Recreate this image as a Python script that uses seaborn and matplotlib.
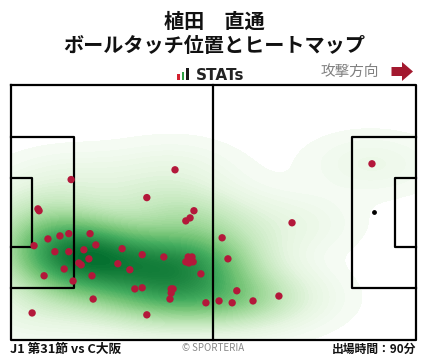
import numpy as np
import pandas as pd
import matplotlib
matplotlib.use("Agg")
import matplotlib.pyplot as plt
import seaborn as sns
from matplotlib.patches import Rectangle, Polygon
from matplotlib.colors import LinearSegmentedColormap

# ---- data (pitch metres, x from own goal, y from top touchline) ----
touch_x = [15.7, 42.6, 35.3, 7.1, 7.4, 47.5, 46.5, 45.4, 15.1, 12.8,
           9.7, 20.6, 6.1, 22.1, 11.5, 15.1, 19.0, 28.9, 34.1, 39.7,
           46.0, 47.0, 45.4, 46.2, 47.3, 20.3, 17.7, 18.3, 27.8, 30.9,
           13.9, 49.3, 8.7, 21.1, 16.2, 32.2, 34.1, 41.6, 42.1, 41.6,
           41.3, 21.4, 50.6, 5.6, 35.3, 72.9, 54.8, 56.3, 58.6, 54.0,
           57.4, 62.8, 69.5, 93.6]
touch_y = [25.3, 22.7, 30.1, 33.1, 33.6, 33.6, 35.5, 36.3, 39.7, 40.3,
           41.1, 39.7, 42.9, 42.7, 44.5, 44.5, 44.0, 43.7, 45.3, 45.9,
           45.9, 45.9, 47.2, 47.5, 47.2, 46.4, 47.5, 48.0, 47.7, 49.3,
           49.1, 50.4, 50.9, 50.9, 52.3, 54.4, 54.1, 54.4, 54.4, 55.5,
           57.1, 57.1, 58.1, 60.8, 61.3, 36.8, 40.8, 46.4, 54.9, 57.6,
           58.1, 57.6, 56.3, 21.1]

title_name = "植田　直通"
title_sub = "ボールタッチ位置とヒートマップ"
match_label = "J1 第31節 vs C大阪"
minutes_label = "出場時間：90分"
credit_label = "© SPORTERIA"
direction_label = "攻撃方向"
logo_label = "STATs"

PITCH_L, PITCH_W = 105.0, 68.0

sns.set_theme(style="white")
plt.rcParams['font.family'] = ['Noto Sans CJK JP', 'DejaVu Sans']

W, H = 428, 359
fig = plt.figure(figsize=(W / 100, H / 100), dpi=100)
fig.patch.set_facecolor("white")


def fx(px):
    return px / W


def fy(py):
    return 1 - py / H


ax = fig.add_axes([fx(10.5), fy(340), fx(416) - fx(10.5), fy(84.5) - fy(340)])
ax.set_xlim(0, PITCH_L)
ax.set_ylim(PITCH_W, 0)
ax.set_facecolor("white")
for s in ax.spines.values():
    s.set_visible(False)
ax.set_xticks([])
ax.set_yticks([])

df = pd.DataFrame({"x": touch_x, "y": touch_y})

# penalty spots (under heatmap)
ax.scatter([11, 94], [34, 34], s=6, color="black", zorder=0.5)

greens = plt.get_cmap("Greens")
heat_cmap = LinearSegmentedColormap.from_list(
    "heat", [greens(0.86 * v ** 0.85) for v in np.linspace(0.0, 1.0, 96)])

sns.kdeplot(data=df, x="x", y="y", fill=True, cmap=heat_cmap, levels=70,
            thresh=0.006, bw_adjust=1.1, clip=((0, PITCH_L), (0, PITCH_W)),
            ax=ax, zorder=1)

lw = 1.6
lc = "black"


def line(xs, ys):
    ax.plot(xs, ys, color=lc, lw=lw, zorder=3, clip_on=False,
            solid_capstyle="projecting")


line([0, PITCH_L, PITCH_L, 0, 0], [0, 0, PITCH_W, PITCH_W, 0])
line([52.5, 52.5], [0, PITCH_W])
line([0, 16.5, 16.5, 0], [13.84, 13.84, 54.16, 54.16])
line([0, 5.5, 5.5, 0], [24.84, 24.84, 43.16, 43.16])
line([PITCH_L, PITCH_L - 16.5, PITCH_L - 16.5, PITCH_L], [13.84, 13.84, 54.16, 54.16])
line([PITCH_L, PITCH_L - 5.5, PITCH_L - 5.5, PITCH_L], [24.84, 24.84, 43.16, 43.16])

sns.scatterplot(data=df, x="x", y="y", color="#b3183a", s=28,
                edgecolor="none", ax=ax, zorder=4, legend=False)
ax.set_xlabel("")
ax.set_ylabel("")

# ---- titles ----
fig.text(fx(214), fy(21), title_name, ha="center", va="center",
         fontsize=14.5, fontweight="bold", color="#111111")
fig.text(fx(214), fy(46), title_sub, ha="center", va="center",
         fontsize=14.5, fontweight="bold", color="#111111")

# ---- STATs logo ----
for (x0, x1, y0, col) in [(176.7, 180, 74, "#d3202f"),
                          (181.7, 184.3, 72, "#2ea043"),
                          (186, 189.3, 68.3, "#1a1a1a")]:
    fig.patches.append(Rectangle((fx(x0), fy(80)), fx(x1) - fx(x0),
                                 fy(y0) - fy(80), transform=fig.transFigure,
                                 color=col, lw=0))
fig.text(fx(196), fy(80), logo_label, ha="left", va="baseline",
         fontsize=11, fontweight="bold", color="#222222",
         family=["DejaVu Sans"])

# ---- attack direction ----
fig.text(fx(379), fy(72), direction_label, ha="right", va="center",
         fontsize=10.5, color="#808080")
arrow_pts = [(391.5, 67), (402, 67), (402, 62), (413, 71.5), (402, 81),
             (402, 76), (391.5, 76)]
fig.patches.append(Polygon([(fx(a), fy(b)) for a, b in arrow_pts], closed=True,
                           transform=fig.transFigure, color="#a3192f", lw=0))

# ---- footer ----
fig.text(fx(10), fy(349), match_label, ha="left", va="center",
         fontsize=9.2, fontweight="bold", color="#111111")
fig.text(fx(416), fy(349), minutes_label, ha="right", va="center",
         fontsize=8.5, fontweight="bold", color="#111111")
fig.text(fx(213), fy(348), credit_label, ha="center", va="center",
         fontsize=7, color="#888888")

fig.savefig("out.png", dpi=100, facecolor="white")
